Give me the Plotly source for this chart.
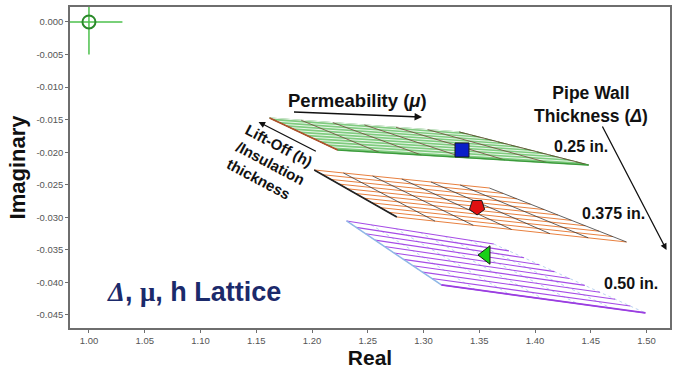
import plotly.graph_objects as go

# ---- data ----
x_ticks = [1.00, 1.05, 1.10, 1.15, 1.20, 1.25, 1.30, 1.35, 1.40, 1.45, 1.50]
y_ticks = [0.000, -0.005, -0.010, -0.015, -0.020, -0.025, -0.030, -0.035, -0.040, -0.045]

# lattice corners: top-left, top-right, bottom-right, bottom-left
green_x = [1.162, 1.332, 1.448, 1.223]
green_y = [-0.01474, -0.01689, -0.02196, -0.01966]
orange_x = [1.202, 1.359, 1.482, 1.276]
orange_y = [-0.02273, -0.02550, -0.03379, -0.02995]
purple_x = [1.231, 1.363, 1.499, 1.316]
purple_y = [-0.03056, -0.03410, -0.04469, -0.04039]
n_liftoff = 11   # lines along the permeability direction
n_perm = 7       # lines along the lift-off direction

ref_x, ref_y = [1.00], [0.000]
cross_h_x, cross_h_y = [0.983, 1.030], [0.0, 0.0]
cross_v_x, cross_v_y = [1.0, 1.0], [0.0023, -0.005]

marker_x = [1.3345, 1.348, 1.356]
marker_y = [-0.01966, -0.02841, -0.03579]


def lattice_lines(cx, cy, n_h, n_m):
    """Build the two families of lattice lines from the 4 corners."""
    (x0, x1, x2, x3), (y0, y1, y2, y3) = cx, cy

    def pt(u, v):  # u along permeability, v along lift-off
        xa = x0 + (x1 - x0) * u
        ya = y0 + (y1 - y0) * u
        xb = x3 + (x2 - x3) * u
        yb = y3 + (y2 - y3) * u
        return xa + (xb - xa) * v, ya + (yb - ya) * v

    mx, my, hx, hy = [], [], [], []
    for i in range(n_h):
        v = i / (n_h - 1)
        a, b = pt(0, v), pt(1, v)
        mx += [a[0], b[0], None]
        my += [a[1], b[1], None]
    for j in range(n_m):
        u = j / (n_m - 1)
        a, b = pt(u, 0), pt(u, 1)
        hx += [a[0], b[0], None]
        hy += [a[1], b[1], None]
    return mx, my, hx, hy


fig = go.Figure()

# green lattice (0.25 in.)
fig.add_trace(go.Scatter(x=green_x + [green_x[0]], y=green_y + [green_y[0]], mode="lines",
                         fill="toself", fillcolor="rgba(105,195,105,0.85)",
                         line=dict(color="#3f9f3f", width=1), hoverinfo="skip"))
mx, my, hx, hy = lattice_lines(green_x, green_y, n_liftoff, n_perm)
fig.add_trace(go.Scatter(x=mx, y=my, mode="lines", line=dict(color="#eaf7ea", width=1), hoverinfo="skip"))
fig.add_trace(go.Scatter(x=hx, y=hy, mode="lines", line=dict(color="#6e4436", width=0.8), hoverinfo="skip"))
fig.add_trace(go.Scatter(x=[green_x[0], green_x[3]], y=[green_y[0], green_y[3]], mode="lines",
                         line=dict(color="#b0502a", width=1.5), hoverinfo="skip"))
fig.add_trace(go.Scatter(x=[green_x[3], green_x[2]], y=[green_y[3], green_y[2]], mode="lines",
                         line=dict(color="#3c9c3c", width=1.5), hoverinfo="skip"))

# orange lattice (0.375 in.)
mx, my, hx, hy = lattice_lines(orange_x, orange_y, n_liftoff, n_perm)
fig.add_trace(go.Scatter(x=mx, y=my, mode="lines", line=dict(color="#e8803f", width=1), hoverinfo="skip"))
fig.add_trace(go.Scatter(x=hx, y=hy, mode="lines", line=dict(color="#3a3a3a", width=0.8), hoverinfo="skip"))
fig.add_trace(go.Scatter(x=[orange_x[0], orange_x[3]], y=[orange_y[0], orange_y[3]], mode="lines",
                         line=dict(color="#222222", width=1.6), hoverinfo="skip"))

# purple lattice (0.50 in.)
mx, my, hx, hy = lattice_lines(purple_x, purple_y, n_liftoff, n_perm)
fig.add_trace(go.Scatter(x=hx, y=hy, mode="lines", line=dict(color="#a9c8ec", width=0.8, dash="dot"), hoverinfo="skip"))
fig.add_trace(go.Scatter(x=mx, y=my, mode="lines", line=dict(color="#a64ce6", width=1.1), hoverinfo="skip"))
fig.add_trace(go.Scatter(x=[purple_x[0], purple_x[3]], y=[purple_y[0], purple_y[3]], mode="lines",
                         line=dict(color="#8fb8e6", width=1.5), hoverinfo="skip"))
fig.add_trace(go.Scatter(x=[purple_x[3], purple_x[2]], y=[purple_y[3], purple_y[2]], mode="lines",
                         line=dict(color="#9a3ee0", width=1.8), hoverinfo="skip"))

# reference crosshair
fig.add_trace(go.Scatter(x=cross_h_x, y=cross_h_y, mode="lines", line=dict(color="#4cc04c", width=1.5), hoverinfo="skip"))
fig.add_trace(go.Scatter(x=cross_v_x, y=cross_v_y, mode="lines", line=dict(color="#4cc04c", width=1.5), hoverinfo="skip"))
fig.add_trace(go.Scatter(x=ref_x, y=ref_y, mode="markers",
                         marker=dict(symbol="circle-open", size=13, color="#2a8a2a", line=dict(width=2)),
                         hoverinfo="skip"))

# operating-point markers
fig.add_trace(go.Scatter(x=marker_x, y=marker_y, mode="markers",
                         marker=dict(symbol=["square", "pentagon", "triangle-left"],
                                     angle=[0, 180, 0],
                                     size=[14, 16, 16],
                                     opacity=1,
                                     color=["#0a1ec8", "#e01010", "#18d018"],
                                     line=dict(color="#1a1a1a", width=1)),
                         hoverinfo="skip"))

ann = []
bold = dict(family="Liberation Sans, Arial", color="#111111")
ann.append(dict(x=1.2406, y=-0.01213, text="<b>Permeability (<i>μ</i>)</b>", showarrow=False,
                font=dict(size=18.5, **bold)))
ann.append(dict(x=1.2987, y=-0.01459, ax=1.1825, ay=-0.01382, axref="x", ayref="y",
                text="", showarrow=True, arrowhead=2, arrowsize=1, arrowwidth=1.5, arrowcolor="#111"))
ann.append(dict(x=1.1625, y=-0.02166, text="<b>Lift-Off (h)<br>/Insulation<br>thickness</b>",
                showarrow=False, textangle=28, align="left", font=dict(size=15, **bold)))
ann.append(dict(x=1.1521, y=-0.01536, ax=1.2048, ay=-0.01997, axref="x", ayref="y",
                text="", showarrow=True, arrowhead=2, arrowsize=1, arrowwidth=1.3, arrowcolor="#111"))
ann.append(dict(x=1.4499, y=-0.01265, text="<b>Pipe Wall<br>Thickness (<i>Δ</i>)</b>", showarrow=False,
                font=dict(size=17.5, **bold)))
ann.append(dict(x=1.5179, y=-0.03502, ax=1.4597, ay=-0.01582, axref="x", ayref="y",
                text="", showarrow=True, arrowhead=2, arrowsize=1, arrowwidth=1.3, arrowcolor="#111"))
ann.append(dict(x=1.441, y=-0.0192, text="<b>0.25 in.</b>", showarrow=False, font=dict(size=16, **bold)))
ann.append(dict(x=1.4705, y=-0.02949, text="<b>0.375 in.</b>", showarrow=False, font=dict(size=16, **bold)))
ann.append(dict(x=1.4857, y=-0.04009, text="<b>0.50 in.</b>", showarrow=False, font=dict(size=16, **bold)))
ann.append(dict(x=1.0939, y=-0.04147,
                text="<b><i><span style='font-family:Liberation Serif'>Δ</span></i>, "
                     "<span style='font-family:Liberation Serif'>μ</span>, h Lattice</b>",
                showarrow=False, font=dict(size=27, family="Liberation Sans, Arial", color="#1b2a6b")))

axis_common = dict(showline=True, linecolor="#6e6e6e", linewidth=1.5, mirror=True,
                   ticks="outside", ticklen=3, tickcolor="#6e6e6e", showgrid=False, zeroline=False,
                   tickfont=dict(size=9.5, family="Liberation Sans, Arial", color="#555555"))

fig.update_layout(
    width=675, height=372,
    margin=dict(l=70, r=3, t=7, b=44),
    paper_bgcolor="white", plot_bgcolor="white",
    showlegend=False,
    annotations=ann,
    xaxis=dict(range=[0.983, 1.521], tickvals=x_ticks, ticktext=[f"{v:.2f}" for v in x_ticks],
               title=dict(text="<b>Real</b>", font=dict(size=21, family="Liberation Sans, Arial", color="#111"),
                          standoff=2), **axis_common),
    yaxis=dict(range=[-0.0470, 0.0023], tickvals=y_ticks, ticktext=[f"{v:.3f}" for v in y_ticks],
               title=dict(text="<b>Imaginary</b>", font=dict(size=22, family="Liberation Sans, Arial", color="#111"),
                          standoff=5), **axis_common),
)

fig.write_html("out.html")
